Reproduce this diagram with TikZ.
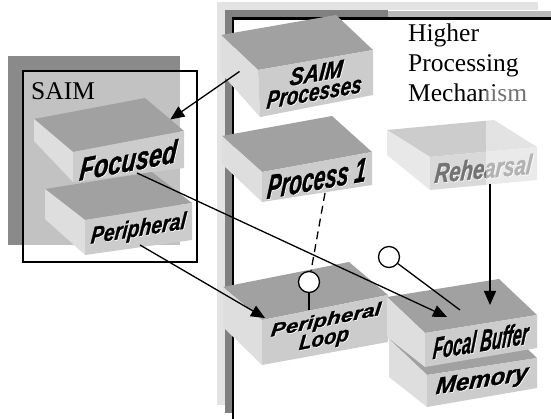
\documentclass[tikz,border=0pt]{standalone}
\usepackage{graphicx}
\usepackage{fontspec}
\setmainfont{Liberation Serif}
\newfontfamily\boxfont{Liberation Sans}[BoldItalicFeatures={FakeBold=1.2}]
\usetikzlibrary{calc,arrows.meta}
\definecolor{framelight}{gray}{0.89}
\definecolor{framedark}{gray}{0.50}
\definecolor{framemid}{gray}{0.72}
\definecolor{saimdark}{gray}{0.54}
\definecolor{saimlight}{gray}{0.76}
\definecolor{topc}{gray}{0.63}
\definecolor{frontc}{gray}{0.80}
\definecolor{sidec}{gray}{0.87}
\definecolor{rtopc}{gray}{0.80}
\definecolor{rfrontc}{gray}{0.85}
\definecolor{rsidec}{gray}{0.91}
\definecolor{rtext}{gray}{0.45}
\tikzset{
  topface/.style={fill=topc},
  frontface/.style={fill=frontc},
  sideface/.style={fill=sidec},
  boxlbl/.style={inner sep=0pt, align=center, font=\boxfont\bfseries\itshape\fontsize{14}{19}\selectfont},
  conn/.style={line width=1.3pt},
  arr/.style={conn, -{Triangle[length=14pt,width=12pt]}},
  ring/.style={circle, draw, line width=1.3pt, fill=white, minimum size=21pt, inner sep=0pt},
  serif/.style={inner sep=0pt, anchor=base west, font=\fontsize{25.5}{30}\selectfont}
}
\newcommand\rb[3]{\resizebox{#1pt}{#2pt}{#3}}
\newcommand\cbox[7]{%
  \coordinate (#1-ftl) at #2;
  \coordinate (#1-ftr) at #3;
  \coordinate (#1-fbr) at #4;
  \coordinate (#1-fbl) at #5;
  \coordinate (#1-btl) at ($(#1-ftl)+#6$);
  \coordinate (#1-btr) at ($(#1-ftr)+#6$);
  \coordinate (#1-bbl) at ($(#1-btl)+(0,#7)$);
  \fill[topface] (#1-ftl) -- (#1-ftr) -- (#1-btr) -- (#1-btl) -- cycle;
  \fill[sideface] (#1-ftl) -- (#1-btl) -- (#1-bbl) -- (#1-fbl) -- cycle;
  \fill[frontface] (#1-ftl) -- (#1-ftr) -- (#1-fbr) -- (#1-fbl) -- cycle;
}
\newcommand\boxtext[3][]{%
  \path let \p1=($(#2-ftr)-(#2-ftl)$), \n1={\y1/\x1} in
    node[boxlbl, yslant=\n1, xslant=0.1, text=white, xshift=0.8pt, yshift=-0.8pt] at ($(#2-ftl)!0.5!(#2-fbr)$) {#3}
    node[boxlbl, yslant=\n1, xslant=0.1, #1] (#2) at ($(#2-ftl)!0.5!(#2-fbr)$) {#3};
}
\begin{document}
\begin{tikzpicture}[x=1pt,y=-1pt]
\useasboundingbox[fill=white] (0,0) rectangle (551,419);
% outer frame of the higher processing mechanism
\fill[framelight] (217,2) rectangle (538,10);
\fill[framelight] (217,2) rectangle (225,405);
\fill[framedark] (225,10) rectangle (388,17);
\fill[framedark] (225,10) rectangle (232,413);
\fill[framemid] (388,11) rectangle (551,17);
\draw[line width=2.2pt] (233,419) -- (233,18.5) -- (551,18.5);
% SAIM group
\fill[saimdark] (8,56) rectangle (180,245);
\fill[saimlight] (23,71) rectangle (180,245);
\draw[line width=1.3pt] (23,71) rectangle (197,262);
\node[serif] (saimlbl) at (31,100) {SAIM};
\node[serif] (hpm1) at (408,42) {Higher};
\node[serif] (hpm2) at (408,72) {Processing};
\node[serif] (hpm3) at (408,102) {Mechanism};
% boxes
\cbox{saimp}{(258,70)}{(373,50)}{(373,95)}{(260,117)}{(-37,-35)}{38}
\cbox{p1}{(262,172)}{(372,152)}{(372,185)}{(262,202)}{(-40,-36)}{28}
\begin{scope}
\tikzset{topface/.style={fill=rtopc},frontface/.style={fill=rfrontc},sideface/.style={fill=rsidec}}
\cbox{reh}{(430,157)}{(537,147)}{(537,180)}{(430,190)}{(-43,-27)}{25}
\end{scope}
\cbox{pl}{(262,320)}{(388,295)}{(388,342)}{(262,365)}{(-39,-33)}{40}
\cbox{mem}{(427,375)}{(537,358)}{(537,388)}{(427,407)}{(-38,-36)}{38}
\cbox{fb}{(425,333)}{(537,315)}{(537,348)}{(425,367)}{(-38,-36)}{40}
\cbox{foc}{(73,152)}{(184,131)}{(184,168)}{(73,182)}{(-39,-33)}{22}
\cbox{per}{(85,220)}{(192,203)}{(192,240)}{(85,255)}{(-40,-31)}{30}
% labels
\boxtext{saimp}{\rb{53}{17}{SAIM}\\\rb{95}{17}{Processes}}
\boxtext{p1}{\rb{99}{23}{Process 1}}
\boxtext[text=rtext]{reh}{\rb{97}{20}{Rehearsal}}
\boxtext{pl}{\rb{110}{13}{Peripheral}\\\rb{50}{14}{Loop}}
\boxtext{mem}{\rb{92}{16}{Memory}}
\boxtext{fb}{\rb{95}{22}{Focal Buffer}}
\boxtext{foc}{\rb{97}{23}{Focused}}
\boxtext{per}{\rb{95}{17}{Peripheral}}
% blur of the right edge
\fill[white, opacity=0.45] (486,86) rectangle (551,192);
% connection points
\coordinate (saimp-src) at ($(saimp-ftl)!0.5!(saimp-bbl)$);
\coordinate (foc-tip) at ($(foc-btr)!0.65!(foc-ftr)$);
\coordinate (foc-src) at (137,173);
\coordinate (fb-tipa) at (447,317);
\coordinate (per-src) at (140,245);
\coordinate (pl-tip) at (265,318);
\coordinate (p1-src) at (325,193);
\coordinate (pl-stem) at (309,310);
\coordinate (fb-stem) at (460,310);
\coordinate (reh-src) at (490,184);
\coordinate (fb-tipb) at (490,305);
% connectors
\draw[arr] (saimp-src) -- (foc-tip);
\draw[arr] (foc-src) -- (fb-tipa);
\draw[arr] (per-src) -- (pl-tip);
\draw[arr] (reh-src) -- (fb-tipb);
\node[ring] (ring1) at (309,282) {};
\node[ring] (ring2) at (389,257) {};
\draw[conn, dash pattern=on 8pt off 5pt] (p1-src) -- (ring1);
\draw[conn] (ring1) -- (pl-stem);
\draw[conn] (ring2) -- (fb-stem);
\end{tikzpicture}
\end{document}
